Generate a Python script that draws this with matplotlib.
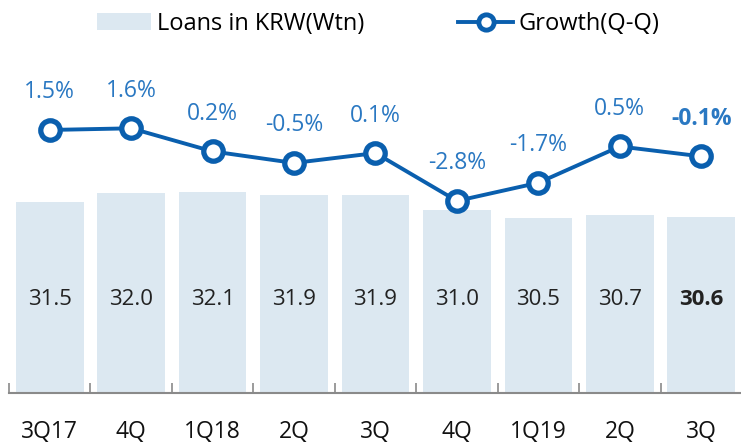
import numpy as np
import matplotlib.pyplot as plt
from matplotlib.lines import Line2D
from matplotlib.patches import Patch

plt.rcParams['font.family'] = ['Open Sans', 'DejaVu Sans']

quarters = ['3Q17', '4Q', '1Q18', '2Q', '3Q', '4Q', '1Q19', '2Q', '3Q']
loans = [31.5, 32.0, 32.1, 31.9, 31.9, 31.0, 30.5, 30.7, 30.6]
growth = [1.5, 1.6, 0.2, -0.5, 0.1, -2.8, -1.7, 0.5, -0.1]

BAR_C = '#dce8f1'
LINE_C = '#0a5fae'
LABEL_C = '#2a78c2'

fig = plt.figure(figsize=(7.41, 4.45), dpi=100)
ax = fig.add_axes([9 / 741, 1 - 393 / 445, 733 / 741, 333 / 445])
x = np.arange(len(quarters))

ax.bar(x, loans, width=0.83, color=BAR_C)
ax.set_ylim(20, 40)
ax.set_xlim(-0.5, len(quarters) - 0.5)

# 柱内数值
for i, v in enumerate(loans):
    last = i == len(loans) - 1
    ax.text(i, 25.6, f'{v:.1f}', ha='center', va='center', fontsize=16,
            color='#222222', fontweight='bold' if last else 'normal')

for s in ['top', 'right', 'left']:
    ax.spines[s].set_visible(False)
ax.spines['bottom'].set_color('#8a8a8a')
ax.spines['bottom'].set_linewidth(1.5)
ax.set_yticks([])
ax.set_xticks(x)
ax.set_xticklabels(quarters, fontsize=16.5, color='#111111')
ax.tick_params(axis='x', which='major', length=0, pad=19.5)
ax.set_xticks(np.concatenate([[-0.5], x[:-1] + 0.5]), minor=True)
ax.tick_params(axis='x', which='minor', direction='in', length=7,
               width=1.2, color='#8a8a8a')

# 增长率折线（次轴）
ax2 = ax.twinx()
ax2.set_ylim(-14.44, 5.74)
ax2.plot(x, growth, color=LINE_C, lw=2.8, marker='o', markersize=14,
         markerfacecolor='white', markeredgecolor=LINE_C, markeredgewidth=3.8,
         zorder=3)
ax2.axis('off')
for i, g in enumerate(growth):
    last = i == len(growth) - 1
    ax2.annotate(f'{g:.1f}%', (i, g), xytext=(0, 27), textcoords='offset points',
                 ha='center', va='center', fontsize=16.5, color=LABEL_C,
                 fontweight='bold' if last else 'normal')

handles = [Patch(facecolor=BAR_C, edgecolor='none'),
           Line2D([], [], color=LINE_C, lw=2.8, marker='o', markersize=11,
                  markerfacecolor='white', markeredgecolor=LINE_C,
                  markeredgewidth=3.5)]
fig.legend(handles, ['Loans in KRW(Wtn)', 'Growth(Q-Q)'], ncol=2,
           loc='center', bbox_to_anchor=(378 / 741, 1 - 24 / 445),
           frameon=False, fontsize=17, handlelength=2.3, handleheight=0.75,
           handletextpad=0.25, columnspacing=4.0)

fig.savefig('out.png', dpi=100)
